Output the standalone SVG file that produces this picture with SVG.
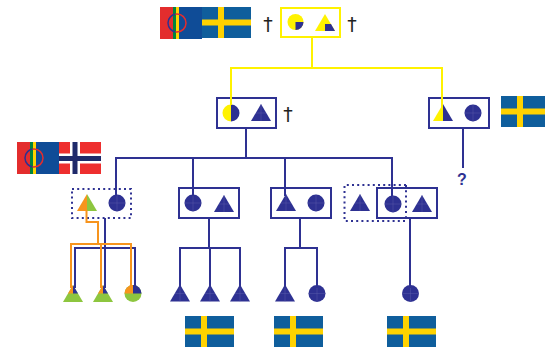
<svg xmlns="http://www.w3.org/2000/svg" width="545" height="348" viewBox="0 0 545 348">
<style>
.box{fill:#fff;stroke:#2e3192;stroke-width:2}
.ybox{fill:#fff;stroke:#fff200;stroke-width:2}
.dot{fill:none;stroke:#2e3192;stroke-width:2;stroke-dasharray:2 3.2}
.b{fill:none;stroke:#2e3192;stroke-width:2}
.y{fill:none;stroke:#fff200;stroke-width:2}
.o{fill:none;stroke:#f7941d;stroke-width:2}
.g{stroke:#5f62ad;stroke-width:.4;fill:none}
text{font-family:"DejaVu Sans",sans-serif}
.dag{font-size:19px;fill:#222;text-anchor:middle}
</style>
<defs>
<g id="tri"><path d="M0-9L10 8H-10Z" fill="#2e3192"/><path class="g" d="M0-9V8M-5 0H5"/></g>
<g id="cir"><circle r="8.500" fill="#2e3192"/><path class="g" d="M0-8.500V8.500M-8.500 0H8.500"/></g>
<g id="se"><rect width="49" height="31" fill="#0f5e9c"/><rect x="16" width="6" height="31" fill="#ffd200"/><rect y="12.500" width="49" height="6" fill="#ffd200"/></g>
<clipPath id="sl"><rect x="-17" y="-16" width="15.500" height="32"/></clipPath>
<clipPath id="sr"><rect x="-1.500" y="-16" width="30" height="32"/></clipPath>
<g id="sami">
<rect x="-17" y="-16" width="42" height="32" fill="#0f4c97"/>
<rect x="-17" y="-16" width="13" height="32" fill="#e32d2d"/>
<rect x="-4" y="-16" width="3" height="32" fill="#00843d"/>
<rect x="-1" y="-16" width="3" height="32" fill="#ffd200"/>
<circle r="9" fill="none" stroke="#2e3192" stroke-width="1.500" clip-path="url(#sl)"/>
<circle r="9" fill="none" stroke="#e32d2d" stroke-width="1.500" clip-path="url(#sr)"/>
</g>
</defs>
<g id="flags-top">
<use href="#sami" x="177" y="23"/>
<use href="#se" transform="translate(202 7)"/>
</g>
<g id="dagger-1"><text class="dag" x="268" y="31">†</text></g>
<g id="node-top">
<rect class="ybox" x="281" y="8" width="59" height="29"/>
<circle cx="295.500" cy="22" r="8" fill="#fff200"/>
<path d="M295.500 22H303.500A8 8 0 0 1 295.500 30Z" fill="#2e3192"/>
<path d="M325 14L335 31H315Z" fill="#fff200"/>
<path d="M325 24H331L335 31H325Z" fill="#2e3192"/>
</g>
<g id="dagger-2"><text class="dag" x="352" y="31">†</text></g>
<g id="node-left">
<rect class="box" x="217" y="98" width="59" height="30"/>
<path d="M231 104.500A8.500 8.500 0 0 1 231 121.500Z" fill="#2e3192"/>
<path d="M231 104.500A8.500 8.500 0 0 0 231 121.500Z" fill="#fff200"/>
<use href="#tri" x="261" y="113"/>
</g>
<g id="dagger-3"><text class="dag" x="288" y="121">†</text></g>
<g id="node-right">
<rect class="box" x="429" y="98" width="60" height="30"/>
<path d="M443 104L453 121H443Z" fill="#2e3192"/>
<path d="M443 104V121H433Z" fill="#fff200"/>
<use href="#cir" x="473" y="113"/>
</g>
<g id="flag-right"><use href="#se" transform="translate(501 96)"/></g>
<g id="unknown"><text x="462" y="185" font-size="16" font-weight="700" fill="#2e3192" text-anchor="middle" style="font-family:'Liberation Sans',sans-serif">?</text></g>
<g id="flags-left">
<use href="#sami" x="34" y="158"/>
<rect x="59" y="142" width="42" height="32" fill="#ee2e2e"/>
<path d="M59 158.500H101M75 142V174" stroke="#fff" stroke-width="10" fill="none"/>
<path d="M59 158.500H101M75 142V174" stroke="#1f2a6b" stroke-width="5" fill="none"/>
</g>
<g id="node-a">
<rect class="dot" x="72" y="189" width="59" height="29"/>
<path d="M87 194L97 211H87Z" fill="#8dc63f"/>
<path d="M87 194V211H77Z" fill="#f7941d"/>
<use href="#cir" x="117" y="203"/>
</g>
<g id="node-b">
<rect class="box" x="179" y="188" width="60" height="30"/>
<use href="#cir" x="193" y="203"/>
<use href="#tri" x="224" y="204"/>
</g>
<g id="node-c">
<rect class="box" x="271" y="188" width="60" height="30"/>
<use href="#tri" x="286" y="203"/>
<use href="#cir" x="316" y="203"/>
</g>
<g id="node-d-dotted">
<path class="dot" d="M406 185H344.500V221H406"/>
<use href="#tri" x="360" y="203"/>
</g>
<g id="node-d">
<rect x="377" y="188" width="60" height="30" fill="none" stroke="#2e3192" stroke-width="2"/>
<path class="dot" d="M406 185V221"/>
<use href="#cir" x="393" y="204"/>
<use href="#tri" x="422" y="204"/>
</g>
<g id="child-a1">
<path d="M73 285L83 302H63Z" fill="#8dc63f"/>
<path d="M73 285V293.500H68Z" fill="#f7941d"/>
<path d="M73 285V293.500H78Z" fill="#2e3192"/>
</g>
<g id="child-a2">
<path d="M103 285L113 302H93Z" fill="#8dc63f"/>
<path d="M103 285V293.500H98Z" fill="#f7941d"/>
<path d="M103 285V293.500H108Z" fill="#2e3192"/>
</g>
<g id="child-a3">
<circle cx="133" cy="293.500" r="8.500" fill="#8dc63f"/>
<path d="M133 293.500H124.500A8.500 8.500 0 0 1 133 285Z" fill="#f7941d"/>
<path d="M133 293.500V285A8.500 8.500 0 0 1 141.500 293.500Z" fill="#2e3192"/>
</g>
<g id="child-b1"><use href="#tri" x="180" y="293.500"/></g>
<g id="child-b2"><use href="#tri" x="210" y="293.500"/></g>
<g id="child-b3"><use href="#tri" x="240" y="293.500"/></g>
<g id="child-c1"><use href="#tri" x="285" y="293.500"/></g>
<g id="child-c2"><use href="#cir" x="317" y="293.500"/></g>
<g id="child-d1"><use href="#cir" x="410.500" y="293.500"/></g>
<g id="flags-bottom">
<use href="#se" transform="translate(185 316)"/>
<use href="#se" transform="translate(274 316)"/>
<use href="#se" transform="translate(387 316)"/>
</g>
<g id="connectors">
<path class="y" d="M312 38V68M231 105V68H442V112"/>
<path class="b" d="M246 128V158M463 128V168M116 196V158H392V196"/>
<path class="b" d="M193 158V196M285 158V196"/>
<path class="b" d="M209 218V248M180 288V248H240V288M210 248V288"/>
<path class="b" d="M300 218V248M285 288V248H317V288M410 218V288"/>
<path class="b" d="M105 218V288M75 288V248H135V288"/>
<path class="o" d="M86.500 210V222H98V244M71 288V244H131V288M101 244V288"/>
</g>
</svg>
